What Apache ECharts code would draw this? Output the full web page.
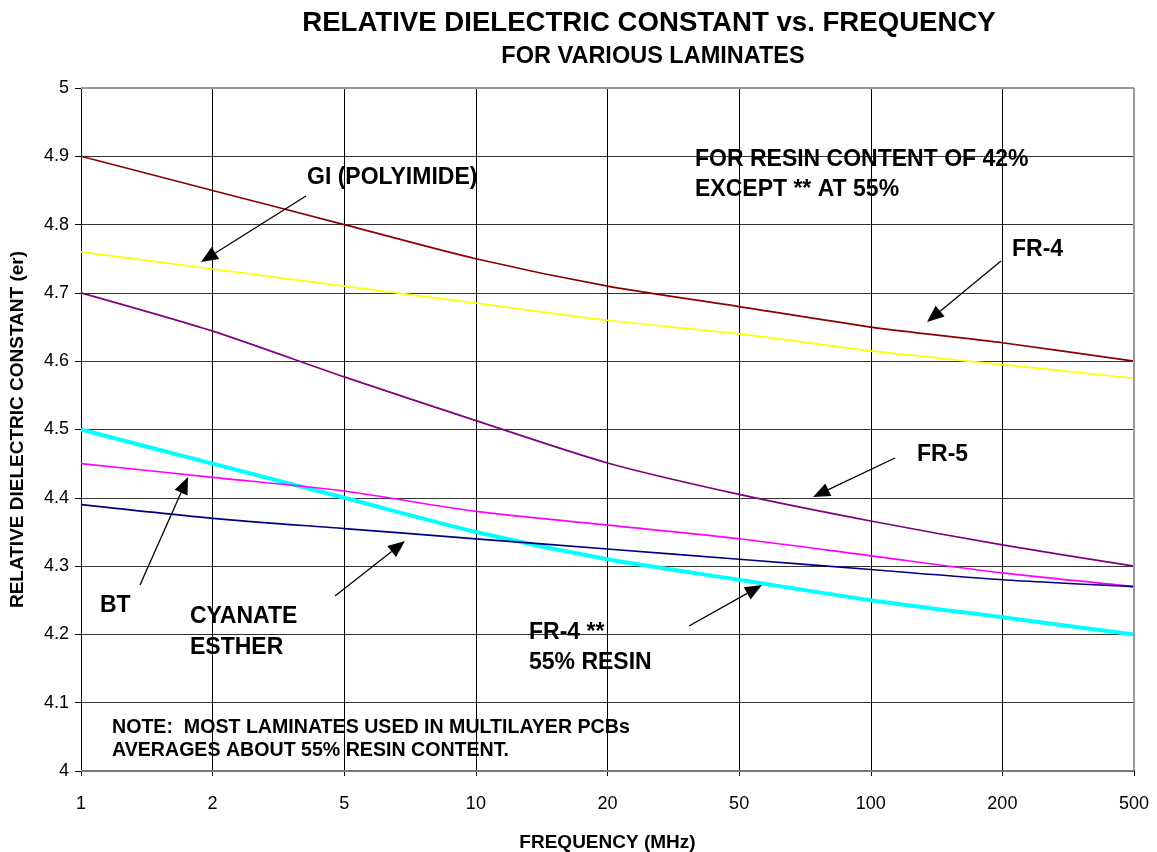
<!DOCTYPE html>
<html>
<head>
<meta charset="utf-8">
<script src="https://cdn.jsdelivr.net/npm/echarts@6/dist/echarts.min.js"></script>
<style>html,body{margin:0;padding:0;background:#fff;}#c{width:1157px;height:852px;}</style>
</head>
<body>
<div id="c"></div>
<script>
const frequencies = ['1','2','5','10','20','50','100','200','500'];
const fr4 = [4.90, 4.85, 4.80, 4.75, 4.71, 4.68, 4.65, 4.627, 4.60];
const giPolyimide = [4.76, 4.735, 4.71, 4.685, 4.66, 4.64, 4.615, 4.595, 4.575];
const fr5 = [4.70, 4.644, 4.577, 4.513, 4.451, 4.405, 4.366, 4.331, 4.30];
const bt = [4.45, 4.43, 4.41, 4.38, 4.36, 4.34, 4.315, 4.29, 4.27];
const cyanateEster = [4.39, 4.37, 4.355, 4.34, 4.325, 4.31, 4.295, 4.28, 4.27];
const fr4Resin55 = [4.50, 4.45, 4.40, 4.35, 4.31, 4.28, 4.25, 4.225, 4.20];

const FONT = '"Liberation Sans", Arial, sans-serif';
const chart = echarts.init(document.getElementById('c'));

function arrow(x1, y1, x2, y2) {
  const dx = x2 - x1, dy = y2 - y1, len = Math.sqrt(dx*dx + dy*dy);
  const ux = dx/len, uy = dy/len, hl = 17, hw = 7;
  const bx = x2 - ux*hl, by = y2 - uy*hl;
  return [
    {type:'line', shape:{x1:x1, y1:y1, x2:bx, y2:by}, style:{stroke:'#000', lineWidth:1.3}, z:100},
    {type:'polygon', shape:{points:[[x2,y2],[bx - uy*hw, by + ux*hw],[bx + uy*hw, by - ux*hw]]}, style:{fill:'#000'}, z:100}
  ];
}
function txt(x, y, s, size) {
  return {type:'text', x:x, y:y, style:{text:s, font:'bold ' + (size||23) + 'px ' + FONT, fill:'#000', textVerticalAlign:'middle', verticalAlign:'middle'}, z:100};
}

const graphics = [].concat(
  arrow(306,196,201,262), [txt(307,178,'GI (POLYIMIDE)')],
  arrow(1001,261,927,322), [txt(1012,250,'FR-4')],
  arrow(895,458,813,497), [txt(917,455,'FR-5')],
  arrow(140,585,188,477), [txt(100,606,'BT')],
  arrow(335,596,405,541), [txt(190,617,'CYANATE'), txt(190,648,'ESTHER')],
  arrow(689,626,762,585), [txt(529,633,'FR-4 **'), txt(529,663,'55% RESIN')],
  [txt(695,160,'FOR RESIN CONTENT OF 42%'), txt(695,190,'EXCEPT ** AT 55%')],
  [txt(112,728,'NOTE:  MOST LAMINATES USED IN MULTILAYER PCBs',19.6), txt(112,751,'AVERAGES ABOUT 55% RESIN CONTENT.',19.6)],
  [{type:'line', shape:{x1:1134, y1:88, x2:1134, y2:771}, style:{stroke:'#999', lineWidth:2}, z:50},
   {type:'line', shape:{x1:81, y1:88, x2:1134, y2:88}, style:{stroke:'#999', lineWidth:2}, z:50},
   {type:'line', shape:{x1:81, y1:771, x2:1134, y2:771}, style:{stroke:'#777', lineWidth:2}, z:50}]
);

function ser(name, data, color, width) {
  return {name:name, type:'line', data:data, symbol:'none', smooth:0.25,
    lineStyle:{color:color, width:width||1.7}, itemStyle:{color:color}, z:width ? 3 : 4};
}

chart.setOption({
  animation:false,
  backgroundColor:'#fff',
  title:[
    {text:'RELATIVE DIELECTRIC CONSTANT vs. FREQUENCY', left:644, top:4, textAlign:'center',
     textStyle:{fontFamily:FONT, fontWeight:'bold', fontSize:27.6, color:'#000'}},
    {text:'FOR VARIOUS LAMINATES', left:648, top:40, textAlign:'center',
     textStyle:{fontFamily:FONT, fontWeight:'bold', fontSize:23.5, color:'#000'}}
  ],
  grid:{left:81, right:23, top:88, bottom:81, containLabel:false, outerBoundsMode:'none'},
  xAxis:{type:'category', data:frequencies, boundaryGap:false,
    name:'FREQUENCY (MHz)', nameLocation:'middle', nameGap:62,
    nameTextStyle:{fontFamily:FONT, fontWeight:'bold', fontSize:19, color:'#000'},
    axisLine:{lineStyle:{color:'#000', width:1}},
    axisTick:{show:true, length:5, lineStyle:{color:'#000'}, alignWithLabel:true},
    axisLabel:{fontFamily:FONT, fontSize:18, color:'#000', margin:24},
    splitLine:{show:true, lineStyle:{color:'#000', width:1}}},
  yAxis:{type:'value', min:4, max:5, interval:0.1,
    name:'RELATIVE DIELECTRIC CONSTANT (er)', nameLocation:'middle', nameGap:54, nameRotate:90,
    nameTextStyle:{fontFamily:FONT, fontWeight:'bold', fontSize:19, color:'#000'},
    axisLine:{show:true, lineStyle:{color:'#000', width:1}},
    axisTick:{show:true, length:6, lineStyle:{color:'#000'}},
    axisLabel:{fontFamily:FONT, fontSize:18, color:'#000', margin:12,
      formatter:function(v){return String(Math.round(v*10)/10);}},
    splitLine:{show:true, lineStyle:{color:'#333', width:1}}},
  series:[
    ser('FR-4', fr4, '#8B0000'),
    ser('GI (POLYIMIDE)', giPolyimide, '#FFFF00'),
    ser('FR-5', fr5, '#800080'),
    ser('BT', bt, '#FF00FF'),
    ser('CYANATE ESTHER', cyanateEster, '#000080'),
    ser('FR-4 ** 55% RESIN', fr4Resin55, '#00FFFF', 4)
  ],
  graphic:graphics
});
</script>
</body>
</html>
